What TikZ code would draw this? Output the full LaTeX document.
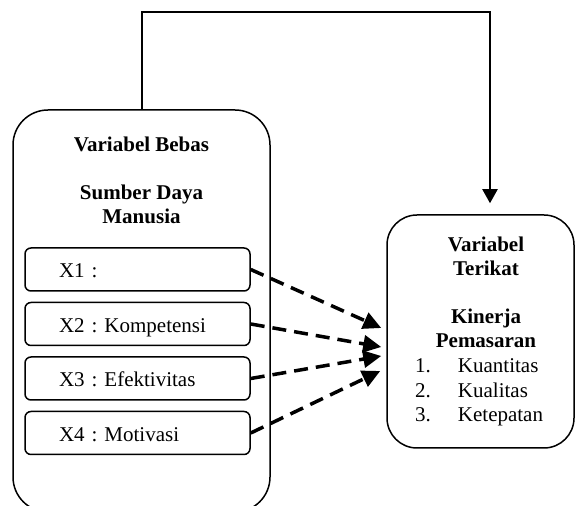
\documentclass[tikz,border=0pt]{standalone}
\usepackage{fontspec}
\setmainfont{Liberation Serif}
\frenchspacing
\usetikzlibrary{arrows.meta,positioning}

\begin{document}
\begin{tikzpicture}[x=1pt, y=1pt, node distance=54.5pt,
  bigbox/.style={draw, rectangle, line width=1.5pt, inner sep=0pt},
  itembox/.style={draw, rectangle, rounded corners=6pt, line width=1.5pt, minimum height=43pt, text width=157pt, inner xsep=34pt, inner ysep=0pt, text height=19pt, text depth=2pt, align=left, font=\fontsize{21}{24}\selectfont},
  boxtext/.style={inner sep=0pt, font=\fontsize{21}{24}\selectfont},
  dasharrow/.style={line width=3.5pt, dash pattern=on 14pt off 8pt, -{Triangle[length=18pt,width=17pt]}}]
\useasboundingbox (0,0) rectangle (576,506);

\node[bigbox, rounded corners=35pt, minimum width=257pt, minimum height=402pt] (bebas) at (141.5,195) {};
\node[bigbox, rounded corners=30pt, minimum width=187pt, minimum height=233pt] (terikat) at (480.5,174.5) {};

\node[boxtext, anchor=base] (bebastitle) at (141.5,354) {\bfseries\begin{tabular}[t]{@{}c@{}}Variabel Bebas\\ \\Sumber Daya\\Manusia\end{tabular}};
\node[boxtext, anchor=base] (terikattitle) at (486,254) {\bfseries\begin{tabular}[t]{@{}c@{}}Variabel\\Terikat\\ \\Kinerja\\Pemasaran\end{tabular}};
\node[boxtext, anchor=base west] (indikator) at (415,133) {\fontsize{21}{24.5}\selectfont\begin{tabular}[t]{@{}l@{\hspace{27pt}}l@{}}1. & Kuantitas\\2. & Kualitas\\3. & Ketepatan\end{tabular}};

\node[itembox] (x1) at (137.5,236.5) {X1 :};
\node[itembox, below of=x1] (x2) {X2 : Kompetensi};
\node[itembox, below of=x2] (x3) {X3 : Efektivitas};
\node[itembox, below of=x3] (x4) {X4 : Motivasi};

\coordinate (t1) at ([xshift=-5pt,yshift=3.5pt]terikat.west);
\coordinate (t2) at ([xshift=-5pt,yshift=-15.5pt]terikat.west);
\coordinate (t3) at ([xshift=-5pt,yshift=-24.5pt]terikat.west);
\coordinate (t4) at ([xshift=-6pt,yshift=-39.5pt]terikat.west);
\coordinate (tip) at ([xshift=9.5pt,yshift=11pt]terikat.north);

\draw[dasharrow] (x1.east) -- (t1);
\draw[dasharrow] (x2.east) -- (t2);
\draw[dasharrow] (x3.east) -- (t3);
\draw[dasharrow] (x4.east) -- (t4);

\draw[line width=2pt, -{Triangle[length=14pt,width=15pt]}] (bebas.north) -- ++(0,97) -| (tip);

\end{tikzpicture}
\end{document}
